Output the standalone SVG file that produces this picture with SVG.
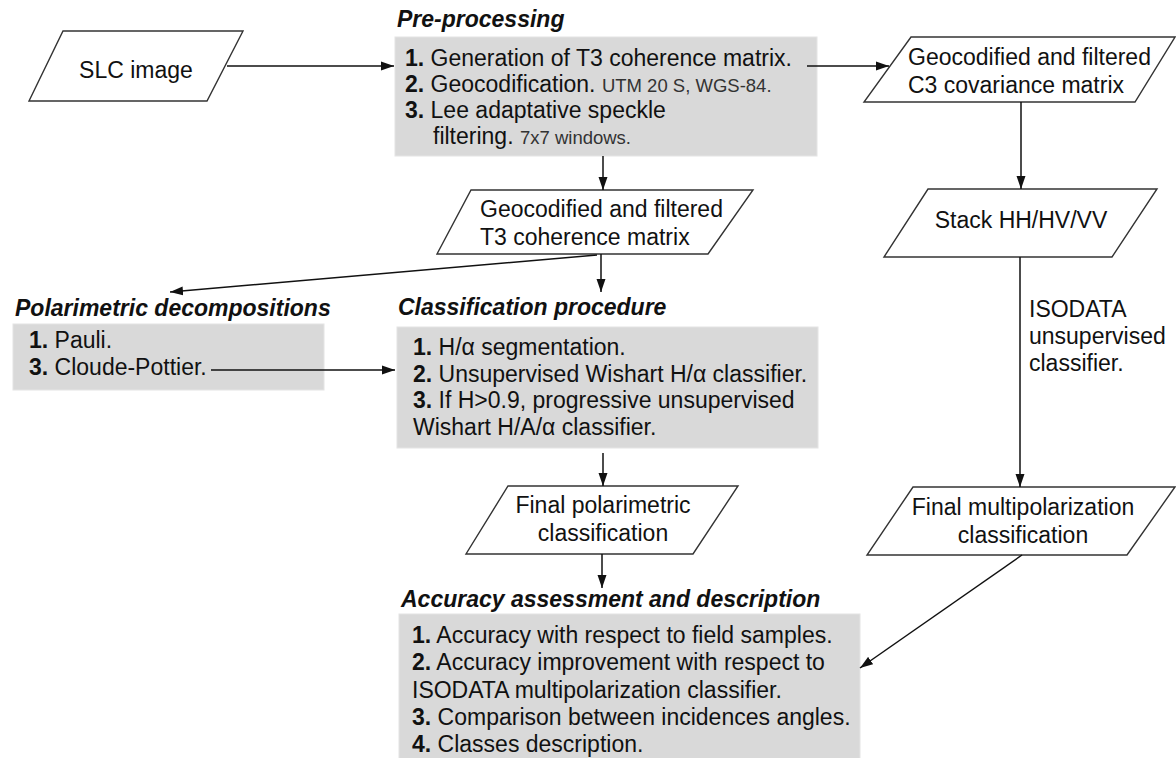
<svg xmlns="http://www.w3.org/2000/svg" width="1176" height="758" viewBox="0 0 1176 758">
<defs>
<style>
text{font-family:"Liberation Sans",Arial,sans-serif;font-size:23px;fill:#111}
.t{font-weight:bold;font-style:italic}
.b{font-weight:bold}
.s{font-size:18.5px;fill:#333}
.box{fill:#d9d9d9;stroke:#e4e4e4;stroke-width:1}
.io{fill:#fff;stroke:#333;stroke-width:1.4}
.c{text-anchor:middle}
.e{fill:none;stroke:#111;stroke-width:1.5;marker-end:url(#ah)}
</style>
<marker id="ah" markerUnits="userSpaceOnUse" markerWidth="14" markerHeight="10" refX="13" refY="5" orient="auto">
<path d="M0,0.5 L13,5 L0,9.5 z" fill="#111"/>
</marker>
</defs>
<rect width="1176" height="758" fill="#fff"/>

<g id="slc">
<polygon class="io" points="63,31 243,31 207,101 29,101"/>
<text class="c" x="136" y="78">SLC image</text>
</g>

<g id="preprocessing">
<text class="t" x="397" y="27">Pre-processing</text>
<rect class="box" x="395" y="37" width="422" height="119"/>
<text x="405" y="66"><tspan class="b">1.</tspan> Generation of T3 coherence matrix.</text>
<text x="405" y="92"><tspan class="b">2.</tspan> Geocodification. <tspan class="s">UTM 20 S, WGS-84.</tspan></text>
<text x="405" y="118"><tspan class="b">3.</tspan> Lee adaptative speckle</text>
<text x="433" y="144">filtering. <tspan class="s">7x7 windows.</tspan></text>
</g>

<g id="c3">
<polygon class="io" points="911,37 1175,37 1135,102 864,102"/>
<text x="908" y="65">Geocodified and filtered</text>
<text x="908" y="93">C3 covariance matrix</text>
</g>

<g id="stack">
<polygon class="io" points="928,189 1157,189 1112,257 884,257"/>
<text class="c" x="1021" y="228">Stack HH/HV/VV</text>
</g>

<g id="isodata-label">
<text x="1029" y="317">ISODATA</text>
<text x="1029" y="344">unsupervised</text>
<text x="1029" y="371">classifier.</text>
</g>

<g id="multipol">
<polygon class="io" points="913,487 1175,487 1127,555 867,555"/>
<text class="c" x="1023" y="515">Final multipolarization</text>
<text class="c" x="1023" y="543">classification</text>
</g>

<g id="t3">
<polygon class="io" points="471,190 753,190 708,254 437,254"/>
<text x="480" y="217">Geocodified and filtered</text>
<text x="480" y="245">T3 coherence matrix</text>
</g>

<g id="poldecomp">
<text class="t" x="15" y="316">Polarimetric decompositions</text>
<rect class="box" x="13" y="324" width="311" height="66"/>
<text x="29" y="348"><tspan class="b">1.</tspan> Pauli.</text>
<text x="29" y="375"><tspan class="b">3.</tspan> Cloude-Pottier.</text>
</g>

<g id="classification">
<text class="t" x="398" y="315">Classification procedure</text>
<rect class="box" x="397" y="327" width="421" height="121"/>
<text x="413" y="355"><tspan class="b">1.</tspan> H/α segmentation.</text>
<text x="413" y="382"><tspan class="b">2.</tspan> Unsupervised Wishart H/α classifier.</text>
<text x="413" y="408"><tspan class="b">3.</tspan> If H&gt;0.9, progressive unsupervised</text>
<text x="413" y="435">Wishart H/A/α classifier.</text>
</g>

<g id="finalpol">
<polygon class="io" points="508,486 738,486 693,554 466,554"/>
<text class="c" x="603" y="513">Final polarimetric</text>
<text class="c" x="603" y="541">classification</text>
</g>

<g id="accuracy">
<text class="t" x="401" y="607">Accuracy assessment and description</text>
<rect class="box" x="399" y="614" width="461" height="146"/>
<text x="412" y="643"><tspan class="b">1.</tspan> Accuracy with respect to field samples.</text>
<text x="412" y="670"><tspan class="b">2.</tspan> Accuracy improvement with respect to</text>
<text x="412" y="698">ISODATA multipolarization classifier.</text>
<text x="412" y="725"><tspan class="b">3.</tspan> Comparison between incidences angles.</text>
<text x="412" y="752"><tspan class="b">4.</tspan> Classes description.</text>
</g>

<g id="connectors">
<line class="e" x1="227" y1="66" x2="394" y2="66"/>
<line class="e" x1="807" y1="66" x2="889" y2="66"/>
<line class="e" x1="1021" y1="102" x2="1021" y2="189"/>
<line class="e" x1="1020" y1="257" x2="1020" y2="487"/>
<line class="e" x1="603" y1="156" x2="603" y2="190"/>
<line class="e" x1="601" y1="254" x2="601" y2="292"/>
<line class="e" x1="597" y1="255" x2="170" y2="292"/>
<line class="e" x1="211" y1="370" x2="395" y2="370"/>
<line class="e" x1="603" y1="453" x2="603" y2="486"/>
<line class="e" x1="602" y1="554" x2="602" y2="588"/>
<line class="e" x1="1022" y1="555" x2="860" y2="668"/>
</g>
</svg>
